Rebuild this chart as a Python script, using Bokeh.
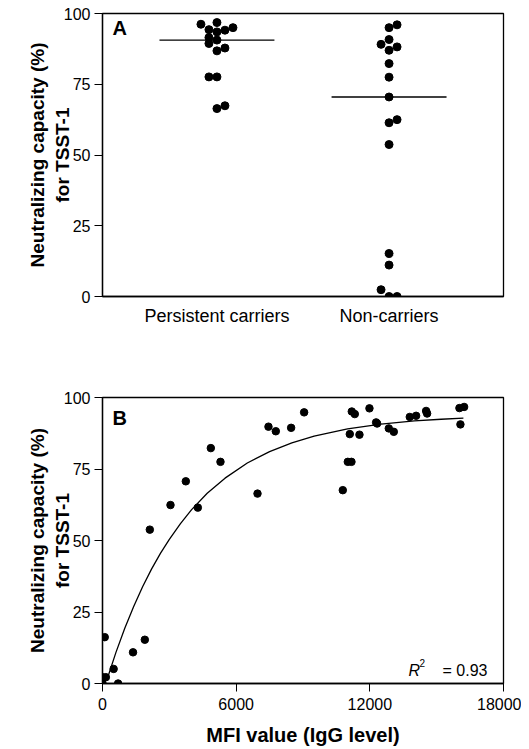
import numpy as np
from bokeh.plotting import figure
from bokeh.layouts import column
from bokeh.models import FixedTicker, Label
from bokeh.embed import file_html
from bokeh.resources import INLINE

# ---------------- data ----------------
groups = ["Persistent carriers", "Non-carriers"]
persistent_vals = [96.2, 96.8, 94.3, 93.5, 94.1, 95.0, 91.5, 90.6, 89.4, 87.8, 86.8, 77.6, 77.6, 66.4, 67.4]
persistent_slot = [-2, 0, -1, 0, 1, 2, -1, 0, -1, 1, 0, -1, 0, 0, 1]
noncarrier_vals = [95.0, 96.0, 90.8, 89.1, 88.2, 87.0, 82.3, 77.5, 70.5, 61.4, 62.5, 53.7, 15.2, 11.1, 2.4, 0.0, 0.0]
noncarrier_slot = [0, 1, 0, -1, 1, 0, 0, 0, 0, 0, 1, 0, 0, 0, -1, 0, 1]

mfi = [100, 0, 150, 0, 700, 500, 1370, 1900, 2124, 3052, 3740, 4279, 4862, 5296, 6957,
       7450, 7779, 8467, 9051, 10786, 11011, 11175, 11100, 11190, 11325, 11534, 11983,
       12282, 12327, 12851, 13075, 13793, 14077, 14526, 14571, 16022, 16232, 16067]
neut = [16.2, 2.2, 2.2, 0.0, 0.0, 5.1, 10.9, 15.3, 53.8, 62.4, 70.7, 61.5, 82.3, 77.5, 66.4,
        89.8, 88.2, 89.4, 94.8, 67.6, 77.5, 77.5, 87.2, 95.1, 94.2, 87.0, 96.2,
        91.3, 90.9, 89.2, 88.0, 93.2, 93.6, 95.3, 94.4, 96.3, 96.7, 90.6]

# fitted curve
curve_x = [200, 600, 1000, 1400, 1800, 2200, 2600, 3000, 3500, 4000, 4700, 5500, 6500,
           7500, 8500, 9500, 11000, 12500, 14000, 15200, 16200]
curve_y = [1.3, 10.8, 19.3, 26.9, 33.8, 40.0, 45.5, 50.4, 55.9, 60.8, 66.5, 71.8, 77.1,
           81.1, 84.1, 86.5, 89.0, 90.7, 91.8, 92.4, 92.8]

y_ticks = [0, 25, 50, 75, 100]
x_ticks_b = [0, 6000, 12000, 18000]
y_title = "Neutralizing capacity (%)\nfor TSST-1"
x_title_b = "MFI value (IgG level)"
r2_text = "= 0.93"

FONT = "Liberation Sans"
SLOT_W = 0.0465
MED_HALF = 0.334


def style_axes(p):
    for ax in (p.xaxis[0], p.yaxis[0]):
        ax.axis_line_color = "black"
        ax.axis_line_width = 1.3
        ax.major_tick_line_color = "black"
        ax.major_tick_line_width = 1
        ax.major_tick_in = 0
        ax.major_tick_out = 8
        ax.minor_tick_line_color = None
        ax.major_label_text_font = FONT
        ax.major_label_text_font_size = "16px"
        ax.major_label_text_color = "black"
        ax.major_label_standoff = 4
        ax.axis_label_text_font = FONT
        ax.axis_label_text_font_style = "bold"
        ax.axis_label_text_color = "black"
    p.yaxis[0].axis_label_text_font_size = "19px"
    p.xaxis[0].axis_label_text_font_size = "20px"
    p.yaxis[0].axis_label = y_title
    p.yaxis[0].axis_label_standoff = -12
    p.xgrid.visible = False
    p.ygrid.visible = False
    p.outline_line_color = "black"
    p.outline_line_width = 1.3
    p.background_fill_color = "white"
    p.border_fill_color = "white"


# ---------------- panel A ----------------
pa = figure(width=521, height=336, x_range=(0.335, 2.665), y_range=(0, 100),
            output_backend="svg", toolbar_location=None,
            min_border_left=102, min_border_right=18, min_border_top=13, min_border_bottom=40)
style_axes(pa)
pa.yaxis[0].ticker = FixedTicker(ticks=y_ticks)
pa.xaxis[0].ticker = FixedTicker(ticks=[1, 2])
pa.xaxis[0].major_label_overrides = {1: groups[0], 2: groups[1]}
pa.xaxis[0].major_label_text_font_size = "18px"
pa.xaxis[0].major_tick_out = 0
pa.xaxis[0].major_label_standoff = 9

xa1 = [1 + s * SLOT_W for s in persistent_slot]
xa2 = [2 + s * SLOT_W for s in noncarrier_slot]
pa.scatter(xa1 + xa2, persistent_vals + noncarrier_vals, size=8, color="black")

med1 = float(np.median(persistent_vals))
med2 = float(np.median(noncarrier_vals))
pa.segment(x0=[1 - MED_HALF, 2 - MED_HALF], y0=[med1, med2],
           x1=[1 + MED_HALF, 2 + MED_HALF], y1=[med1, med2],
           line_color="black", line_width=1.3)

pa.add_layout(Label(x=0.335, y=100, x_offset=10, y_offset=-3, text="A",
                    text_font=FONT, text_font_style="bold", text_font_size="20px",
                    text_baseline="top", text_align="left", text_color="black"))

# ---------------- panel B ----------------
pb = figure(width=521, height=412, x_range=(0, 18000), y_range=(0, 100),
            output_backend="svg", toolbar_location=None,
            min_border_left=102, min_border_right=18, min_border_top=61, min_border_bottom=65)
style_axes(pb)
pb.yaxis[0].ticker = FixedTicker(ticks=y_ticks)
pb.xaxis[0].ticker = FixedTicker(ticks=x_ticks_b)
pb.xaxis[0].major_label_standoff = 6
pb.xaxis[0].axis_label = x_title_b
pb.xaxis[0].axis_label_standoff = 11

pb.line(curve_x, curve_y, line_color="black", line_width=1.3)
pb.scatter(mfi, neut, size=7.5, color="black")

pb.add_layout(Label(x=0, y=100, x_offset=10, y_offset=-9, text="B",
                    text_font=FONT, text_font_style="bold", text_font_size="20px",
                    text_baseline="top", text_align="left", text_color="black"))
pb.add_layout(Label(x=18000, y=0, x_offset=-95, y_offset=13, text="R",
                    text_font=FONT, text_font_style="italic", text_font_size="16px",
                    text_baseline="alphabetic", text_align="left", text_color="black"))
pb.add_layout(Label(x=18000, y=0, x_offset=-84, y_offset=21, text="2",
                    text_font=FONT, text_font_size="10px",
                    text_baseline="alphabetic", text_align="left", text_color="black"))
pb.add_layout(Label(x=18000, y=0, x_offset=-61, y_offset=13, text=r2_text,
                    text_font=FONT, text_font_size="16px",
                    text_baseline="alphabetic", text_align="left", text_color="black"))

layout = column(pa, pb, spacing=0)
open("out.html", "w").write(file_html(layout, INLINE))
